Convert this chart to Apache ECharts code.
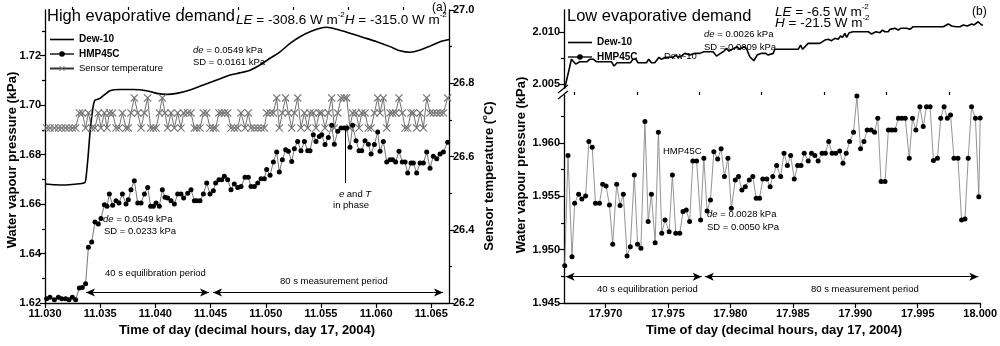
<!DOCTYPE html>
<html><head><meta charset="utf-8">
<script src="https://cdn.jsdelivr.net/npm/echarts@6/dist/echarts.min.js"></script>
<style>html,body{margin:0;padding:0;background:#fff}#c{width:1000px;height:346px}</style>
</head><body><div id="c"></div>
<script>
// ---------- Panel (a): high evaporative demand ----------
const leftHmpTimes = [11.03015,11.03045,11.03085,11.03121,11.03151,11.03187,11.03217,11.03248,11.03278,11.03311,
11.03338,11.03368,11.03393,11.03423,11.03453,11.03483,11.03507,11.03538,11.03562,11.03583,
11.03613,11.03643,11.03670,11.03701,11.03734,11.03755,11.03779,11.03809,11.03840,11.03870,
11.03900,11.03930,11.03957,11.03982,11.04006,11.04036,11.04063,11.04087,11.04111,11.04142,
11.04172,11.04202,11.04232,11.04256,11.04293,11.04323,11.04353,11.04374,11.04404,11.04435,
11.04465,11.04495,11.04525,11.04546,11.04576,11.04601,11.04625,11.04655,11.04685,11.04715,
11.04746,11.04776,11.04812,11.04842,11.04866,11.04897,11.04927,11.04957,11.04987,11.05008,
11.05039,11.05069,11.05099,11.05123,11.05150,11.05180,11.05205,11.05235,11.05259,11.05289,
11.05319,11.05350,11.05380,11.05401,11.05431,11.05455,11.05485,11.05507,11.05537,11.05567,
11.05597,11.05621,11.05652,11.05682,11.05712,11.05733,11.05763,11.05787,11.05818,11.05845,
11.05869,11.05899,11.05929,11.05954,11.05984,11.06014,11.06035,11.06065,11.06096,11.06126,
11.06150,11.06177,11.06207,11.06237,11.06262,11.06286,11.06316,11.06337,11.06367,11.06398,
11.06428,11.06458,11.06488,11.06518,11.06549,11.06579,11.06609,11.06648];
const leftHmpValues = [1.6217,1.6223,1.6213,1.6223,1.6217,1.6217,1.6213,1.6223,1.6213,1.6261,
1.6263,1.6278,1.6425,1.6446,1.6527,1.6519,1.6541,1.6597,1.6591,1.6640,
1.6595,1.6613,1.6604,1.6640,1.6600,1.6617,1.6658,1.6694,1.6604,1.6604,
1.6640,1.6667,1.6591,1.6591,1.6604,1.6591,1.6658,1.6627,1.6624,1.6613,
1.6600,1.6640,1.6640,1.6624,1.6644,1.6658,1.6613,1.6613,1.6613,1.6640,
1.6685,1.6640,1.6654,1.6685,1.6698,1.6698,1.6712,1.6698,1.6658,1.6681,
1.6667,1.6671,1.6708,1.6708,1.6671,1.6671,1.6685,1.6702,1.6702,1.6739,
1.6716,1.6770,1.6810,1.6729,1.6779,1.6819,1.6813,1.6772,1.6823,1.6853,
1.6815,1.6853,1.6815,1.6815,1.6880,1.6853,1.6873,1.6880,1.6840,1.6869,
1.6918,1.6842,1.6894,1.6907,1.6907,1.6907,1.6829,1.6918,1.6856,1.6815,
1.6815,1.6856,1.6842,1.6802,1.6840,1.6891,1.6813,1.6853,1.6770,1.6779,
1.6779,1.6770,1.6813,1.6770,1.6770,1.6725,1.6766,1.6766,1.6725,1.6766,
1.6766,1.6810,1.6745,1.6793,1.6783,1.6802,1.6810,1.6850];
const leftTempValues = [26.678,26.678,26.678,26.678,26.678,26.678,26.678,26.678,26.678,26.719,
26.719,26.678,26.719,26.678,26.678,26.719,26.678,26.719,26.678,26.719,
26.719,26.678,26.678,26.719,26.678,26.678,26.719,26.760,26.719,26.678,
26.719,26.760,26.678,26.678,26.678,26.719,26.760,26.719,26.678,26.719,
26.678,26.719,26.678,26.719,26.719,26.719,26.678,26.678,26.678,26.719,
26.719,26.678,26.678,26.678,26.719,26.719,26.719,26.719,26.678,26.678,
26.678,26.719,26.678,26.719,26.678,26.678,26.678,26.678,26.678,26.719,
26.719,26.719,26.760,26.678,26.719,26.760,26.719,26.678,26.719,26.760,
26.678,26.719,26.678,26.719,26.719,26.678,26.719,26.719,26.678,26.719,
26.760,26.678,26.719,26.760,26.760,26.760,26.678,26.719,26.719,26.678,
26.719,26.719,26.678,26.678,26.719,26.760,26.719,26.760,26.678,26.719,
26.719,26.719,26.760,26.719,26.678,26.678,26.719,26.719,26.678,26.719,
26.678,26.760,26.719,26.719,26.719,26.719,26.719,26.760];
const leftDewTimes = [11.0300,11.0309,11.0318,11.0327,11.0336,11.0337,11.0339,11.0341,11.0343,11.0345,
11.03498,11.03589,11.03680,11.03800,11.03921,11.04012,11.04103,11.04193,11.04314,11.04434,
11.04556,11.04676,11.04767,11.04857,11.04948,11.05039,11.05129,11.05220,11.05310,11.05401,
11.05492,11.05552,11.05643,11.05763,11.05884,11.06005,11.06126,11.06216,11.06307,11.06398,
11.06488,11.06579,11.06660];
const leftDewValues = [1.6681,1.6678,1.6677,1.6680,1.6686,1.6700,1.6790,1.6900,1.6975,1.7018,
1.7027,1.7058,1.7063,1.7063,1.7058,1.7047,1.7043,1.7047,1.7061,1.7081,
1.7101,1.7121,1.7130,1.7141,1.7162,1.7189,1.7215,1.7249,1.7276,1.7296,
1.7310,1.7314,1.7306,1.7290,1.7273,1.7256,1.7236,1.7219,1.7213,1.7222,
1.7238,1.7256,1.7265];
const leftXTicks = [11.030,11.035,11.040,11.045,11.050,11.055,11.060,11.065];
const leftXMinor = [11.0325,11.0375,11.0425,11.0475,11.0525,11.0575,11.0625];
const leftYTicks = [1.62,1.64,1.66,1.68,1.70,1.72];
const leftYMinor = [1.63,1.65,1.67,1.69,1.71,1.73];
const tempTicks = [26.2,26.4,26.6,26.8,27.0];
const tempMinor = [26.3,26.5,26.7,26.9];
const leftEquilArrow = [11.03371,11.04486];
const leftMeasArrow = [11.04522,11.06606];
const leftArrowLevel = 1.6242;
const inPhaseTime = 11.0572;
const inPhaseRange = [1.6907,1.6685];

// ---------- Panel (b): low evaporative demand ----------
const rightHmpTimes = [17.96673,17.96699,17.96731,17.96752,17.96784,17.96810,17.96840,17.96866,17.96893,17.96919,
17.96951,17.96977,17.97004,17.97031,17.97057,17.97089,17.97116,17.97142,17.97172,17.97198,
17.97230,17.97256,17.97283,17.97315,17.97341,17.97367,17.97397,17.97423,17.97450,17.97476,
17.97509,17.97535,17.97562,17.97594,17.97620,17.97646,17.97673,17.97699,17.97729,17.97761,
17.97787,17.97813,17.97840,17.97867,17.97898,17.97925,17.97952,17.97980,17.98007,17.98039,
17.98065,17.98092,17.98119,17.98151,17.98179,17.98206,17.98233,17.98259,17.98291,17.98318,
17.98339,17.98370,17.98402,17.98429,17.98456,17.98482,17.98511,17.98538,17.98565,17.98591,
17.98623,17.98649,17.98676,17.98702,17.98734,17.98760,17.98787,17.98814,17.98843,17.98875,
17.98901,17.98927,17.98954,17.98986,17.99013,17.99042,17.99069,17.99095,17.99127,17.99154,
17.99180,17.99206,17.99238,17.99265,17.99291,17.99318,17.99345,17.99373,17.99400,17.99432,
17.99458,17.99485,17.99517,17.99544,17.99570,17.99599,17.99626,17.99658,17.99684,17.99711,
17.99737,17.99763,17.99790,17.99822,17.99851,17.99878,17.99904,17.99931,17.99962,17.99989,
18.00000];
const rightHmpValues = [1.94850,1.95882,1.94934,1.95435,1.95519,1.95476,1.95504,1.96013,1.95960,1.95435,
1.95435,1.95613,1.95597,1.95419,1.95051,1.95613,1.95413,1.95519,1.94941,1.95028,
1.95701,1.95051,1.95013,1.96201,1.95263,1.95519,1.95066,1.96101,1.95154,1.95279,
1.95169,1.95701,1.95154,1.95154,1.95357,1.95372,1.95263,1.95832,1.95832,1.95279,
1.95857,1.95363,1.95466,1.95919,1.95851,1.95945,1.95685,1.95857,1.95388,1.95654,
1.95685,1.95560,1.95591,1.95654,1.95685,1.95482,1.95482,1.95663,1.95663,1.95591,
1.95685,1.95788,1.95685,1.95904,1.95788,1.95882,1.95663,1.95788,1.95788,1.95904,
1.95832,1.95904,1.95882,1.95832,1.95904,1.95904,1.96013,1.95904,1.95904,1.95926,
1.95810,1.95904,1.96013,1.96101,1.96440,1.95945,1.96013,1.96123,1.96123,1.96101,
1.96232,1.95638,1.95638,1.96123,1.96123,1.96123,1.96232,1.96232,1.96232,1.95857,
1.96232,1.96123,1.96341,1.96154,1.96341,1.96341,1.95835,1.95857,1.96232,1.96341,
1.96232,1.96263,1.95857,1.95857,1.95279,1.95288,1.95857,1.96341,1.96232,1.95497,
1.96235];
const rightDewTimes = [17.96673,17.96726,17.96760,17.96792,17.96850,17.96872,17.96903,17.96925,17.97044,17.97065,
17.97089,17.97195,17.97216,17.97238,17.97256,17.97323,17.97341,17.97363,17.97389,17.97423,
17.97442,17.97474,17.97535,17.97556,17.97574,17.97601,17.97628,17.97668,17.97707,17.97747,
17.97779,17.97821,17.97853,17.97880,17.97912,17.97940,17.97959,17.97980,17.98007,17.98044,
17.98065,17.98097,17.98118,17.98145,17.98177,17.98203,17.98238,17.98272,17.98291,17.98331,
17.98344,17.98530,17.98549,17.98565,17.98609,17.98702,17.98742,17.98768,17.98795,17.98822,
17.98848,17.98867,17.98883,17.98901,17.98915,17.98936,17.98967,17.99087,17.99114,17.99148,
17.99180,17.99201,17.99219,17.99246,17.99259,17.99299,17.99326,17.99345,17.99392,17.99419,
17.99445,17.99684,17.99724,17.99751,17.99785,17.99817,17.99843,17.99875,17.99910,17.99928,
17.99962,17.99989,18.00000];
const rightDewValues = [2.00459,2.00738,2.00692,2.00715,2.00715,2.00738,2.00738,2.00715,2.00715,2.00673,
2.00705,2.00705,2.00738,2.00738,2.00705,2.00705,2.00738,2.00705,2.00705,2.00757,
2.00738,2.00757,2.00757,2.00779,2.00757,2.00769,2.00795,2.00779,2.00795,2.00795,
2.00811,2.00811,2.00811,2.00769,2.00795,2.00817,2.00843,2.00817,2.00834,2.00859,
2.00834,2.00859,2.00843,2.00763,2.00724,2.00779,2.00795,2.00795,2.00779,2.00795,
2.00834,2.00834,2.00875,2.00834,2.00891,2.00891,2.00923,2.00930,2.00917,2.00940,
2.00930,2.00962,2.00949,2.00988,2.00949,2.00994,2.01003,2.01003,2.00981,2.01003,
2.00994,2.01019,2.01003,2.01003,2.01026,2.01036,2.01019,2.01036,2.01036,2.01026,
2.01051,2.01051,2.01077,2.01058,2.01051,2.01051,2.01068,2.01058,2.01077,2.01068,
2.01099,2.01068,2.01068];
const rightXTicks = [17.970,17.975,17.980,17.985,17.990,17.995,18.000];
const rightXMinor = [17.9675,17.9725,17.9775,17.9825,17.9875,17.9925,17.9975];
const rightYLowTicks = [1.945,1.950,1.955,1.960];
const rightYLowMinor = [1.9475,1.9525,1.9575,1.9625];
const rightYHighTicks = [2.005,2.010];
const rightYHighMinor = [2.0075];
const rightEquilArrow = [17.96680,17.97770];
const rightMeasArrow = [17.97795,17.99985];
const rightArrowLevel = 1.94747;

// ---------- build ----------
const zip = (a, b) => a.map((v, i) => [v, b[i]]);
const FONT = "'Liberation Sans', Arial, sans-serif";
const AX = '#000';
const xMark = 'path://M0,1L1,0L5,4L9,0L10,1L6,5L10,9L9,10L5,6L1,10L0,9L4,5Z';

function majorAxis(extra) {
  return Object.assign({
    type: 'value', scale: true,
    axisLine: {show: true, onZero: false, lineStyle: {color: AX, width: 1.3}},
    splitLine: {show: false},
    axisTick: {show: true, inside: false, length: 5, lineStyle: {color: AX, width: 1.2}},
    axisLabel: {color: '#000', fontFamily: FONT, fontWeight: 'bold', fontSize: 11, margin: 4}
  }, extra);
}
function minorAxis(extra, ticks) {
  return Object.assign({
    type: 'value', scale: true,
    axisLine: {show: false, onZero: false},
    splitLine: {show: false},
    axisTick: {show: true, inside: false, length: 3, customValues: ticks, lineStyle: {color: AX, width: 1.2}},
    axisLabel: {show: false}
  }, extra);
}
const fx = d => v => v.toFixed(d);
const lbl = (vals, d, m) => ({customValues: vals, formatter: fx(d), color: '#000', fontFamily: FONT, fontWeight: 'bold', fontSize: 11, margin: m});
const tck = (vals) => ({show: true, length: 5, customValues: vals, lineStyle: {color: AX, width: 1.2}});

const xAxis = [
  majorAxis({gridIndex: 0, min: 11.030, max: 11.0666, axisTick: tck(leftXTicks), axisLabel: lbl(leftXTicks, 3, 5)}),
  minorAxis({gridIndex: 0, min: 11.030, max: 11.0666}, leftXMinor),
  majorAxis({gridIndex: 1, min: 17.96667, max: 18.0, axisTick: tck(rightXTicks), axisLabel: lbl(rightXTicks, 3, 5)}),
  minorAxis({gridIndex: 1, min: 17.96667, max: 18.0}, rightXMinor),
  {type: 'value', gridIndex: 2, min: 17.96667, max: 18.0, show: false}
];
const yAxis = [
  majorAxis({gridIndex: 0, position: 'left', min: 1.62, max: 1.7384, axisTick: tck(leftYTicks), axisLabel: lbl(leftYTicks, 2, 4)}),
  minorAxis({gridIndex: 0, position: 'left', min: 1.62, max: 1.7384}, leftYMinor),
  majorAxis({gridIndex: 0, position: 'right', min: 26.2, max: 27.0, axisTick: tck(tempTicks), axisLabel: lbl(tempTicks, 1, 4)}),
  minorAxis({gridIndex: 0, position: 'right', min: 26.2, max: 27.0}, tempMinor),
  majorAxis({gridIndex: 1, position: 'left', min: 1.945, max: 1.9645, axisTick: tck(rightYLowTicks), axisLabel: lbl(rightYLowTicks, 3, 4)}),
  minorAxis({gridIndex: 1, position: 'left', min: 1.945, max: 1.9645}, rightYLowMinor),
  majorAxis({gridIndex: 2, position: 'left', min: 2.00462, max: 2.01212, axisTick: tck(rightYHighTicks), axisLabel: lbl(rightYHighTicks, 3, 4)}),
  minorAxis({gridIndex: 2, position: 'left', min: 2.00462, max: 2.01212}, rightYHighMinor)
];

const arrowLine = (a, lvl) => [{coord: [a[0], lvl]}, {coord: [a[1], lvl]}];

const series = [
  {name: 'Dew-10', type: 'line', xAxisIndex: 0, yAxisIndex: 0, data: zip(leftDewTimes, leftDewValues),
   symbol: 'none', smooth: 0.25, lineStyle: {color: '#000', width: 1.6}, itemStyle: {color: '#000'}, z: 3},
  {name: 'HMP45C', type: 'line', xAxisIndex: 0, yAxisIndex: 0, data: zip(leftHmpTimes, leftHmpValues),
   symbol: 'circle', symbolSize: 5, showAllSymbol: true, itemStyle: {color: '#000'}, lineStyle: {color: '#555', width: 0.8}, z: 4,
   markLine: {silent: true, symbol: ['arrow', 'arrow'], symbolSize: [6, 9], label: {show: false},
     lineStyle: {color: '#000', width: 1.2, type: 'solid'},
     data: [arrowLine(leftEquilArrow, leftArrowLevel), arrowLine(leftMeasArrow, leftArrowLevel)]}},
  {name: 'Sensor temperature', type: 'line', xAxisIndex: 0, yAxisIndex: 2, data: zip(leftHmpTimes, leftTempValues),
   symbol: xMark, symbolSize: 8, showAllSymbol: true, itemStyle: {color: '#777'}, lineStyle: {color: '#333', width: 0.7}, z: 3},
  {name: 'phase', type: 'line', xAxisIndex: 0, yAxisIndex: 0, data: [],
   markLine: {silent: true, symbol: 'none', label: {show: false}, lineStyle: {color: '#000', width: 1, type: 'solid'},
     data: [[{coord: [inPhaseTime, inPhaseRange[0]]}, {coord: [inPhaseTime, inPhaseRange[1]]}]]}},
  {name: 'HMP45C', type: 'line', xAxisIndex: 2, yAxisIndex: 4, data: zip(rightHmpTimes, rightHmpValues),
   symbol: 'circle', symbolSize: 5, showAllSymbol: true, itemStyle: {color: '#000'}, lineStyle: {color: '#888', width: 0.9}, z: 4,
   markLine: {silent: true, symbol: ['arrow', 'arrow'], symbolSize: [6, 9], label: {show: false},
     lineStyle: {color: '#000', width: 1.2, type: 'solid'},
     data: [arrowLine(rightEquilArrow, rightArrowLevel), arrowLine(rightMeasArrow, rightArrowLevel)]}},
  {name: 'Dew-10', type: 'line', xAxisIndex: 4, yAxisIndex: 6, data: zip(rightDewTimes, rightDewValues),
   symbol: 'none', lineStyle: {color: '#000', width: 1.6}, itemStyle: {color: '#000'}, z: 3}
];

const sm = 9.5;
function txt(x, y, text, size, opts) {
  return {type: 'text', x: x, y: y, silent: true, style: Object.assign({
    text: text, fontSize: size, fontFamily: FONT, fill: '#000',
    align: 'left', textAlign: 'left', verticalAlign: 'middle', textVerticalAlign: 'middle'
  }, opts || {})};
}
const richBase = (size) => ({
  i: {fontStyle: 'italic', fontSize: size, fontFamily: FONT, lineHeight: size + 4},
  n: {fontSize: size, fontFamily: FONT, lineHeight: size + 4},
  s: {fontSize: Math.round(size * 0.62), fontFamily: FONT, verticalAlign: 'top', lineHeight: Math.round(size * 0.5)}
});
const rot = (el) => Object.assign(el, {rotation: Math.PI / 2});
const graphic = [
  txt(47, 16, 'High evaporative demand', 16.5),
  txt(236, 20, '{i|LE}{n| = -308.6 W m}{s|-2}{i|H}{n| = -315.0 W m}{s|-2}', 13.5, {rich: richBase(13.5)}),
  txt(432, 8, '(a)', 12),
  txt(193, 50, '{i|de}{n| = 0.0549 kPa}', sm, {rich: richBase(sm)}),
  txt(193, 62, 'SD = 0.0161 kPa', sm),
  txt(103, 219, '{i|de}{n| = 0.0549 kPa}', sm, {rich: richBase(sm)}),
  txt(104, 231, 'SD = 0.0233 kPa', sm),
  txt(105, 273, '40 s equilibration period', sm),
  txt(280, 281, '80 s measurement period', sm),
  txt(355, 194, '{i|e}{n| and }{i|T}', sm, {rich: richBase(sm), align: 'center', textAlign: 'center'}),
  txt(351, 205, 'in phase', sm, {align: 'center', textAlign: 'center'}),
  txt(567, 16, 'Low evaporative demand', 16.5),
  txt(775, 12, '{i|LE}{n| = -6.5 W m}{s|-2}', 13.5, {rich: richBase(13.5)}),
  txt(775, 23, '{i|H}{n| = -21.5 W m}{s|-2}', 13.5, {rich: richBase(13.5)}),
  txt(972, 12, '(b)', 12),
  txt(704, 34, '{i|de}{n| = 0.0026 kPa}', sm, {rich: richBase(sm)}),
  txt(704, 47, 'SD = 0.0009 kPa', sm),
  txt(664, 56, 'Dew-10', sm),
  txt(663, 151, 'HMP45C', sm),
  txt(707, 214, '{i|de}{n| = 0.0028 kPa}', sm, {rich: richBase(sm)}),
  txt(707, 227, 'SD = 0.0050 kPa', sm),
  txt(597, 289, '40 s equilibration period', sm),
  txt(811, 289, '80 s measurement period', sm),
  // axis titles
  txt(247, 330, 'Time of day (decimal hours, day 17, 2004)', 13, {fontWeight: 'bold', align: 'center', textAlign: 'center'}),
  txt(774, 330, 'Time of day (decimal hours, day 17, 2004)', 13, {fontWeight: 'bold', align: 'center', textAlign: 'center'}),
  rot(txt(12, 160, 'Water vapour pressure (kPa)', 13, {fontWeight: 'bold', align: 'center', textAlign: 'center'})),
  rot(txt(521, 165, 'Water vapour pressure (kPa)', 13, {fontWeight: 'bold', align: 'center', textAlign: 'center'})),
  rot(txt(489, 176, '{b|Sensor temperature (}{s|o}{b|C)}', 13, {align: 'center', textAlign: 'center',
    rich: {b: {fontWeight: 'bold', fontSize: 13, fontFamily: FONT, lineHeight: 16},
           s: {fontWeight: 'bold', fontSize: 8, fontFamily: FONT, verticalAlign: 'top', lineHeight: 6}}})),
  // axis break marks
  {type: 'line', silent: true, shape: {x1: 558, y1: 93, x2: 568, y2: 85}, style: {stroke: '#000', lineWidth: 1.3}},
  {type: 'line', silent: true, shape: {x1: 558, y1: 99, x2: 568, y2: 91}, style: {stroke: '#000', lineWidth: 1.3}}
];

const legendText = {fontFamily: FONT, fontSize: 10, color: '#000', fontWeight: 'bold'};
const noSym = {itemStyle: {opacity: 0, color: 'transparent', borderWidth: 0}, lineStyle: {color: '#000', width: 1.6}};
const option = {
  animation: false,
  backgroundColor: '#fff',
  grid: [
    {left: 45, top: 10, width: 404, height: 293},
    {left: 564, top: 95, width: 419, height: 208},
    {left: 564, top: 10, width: 419, height: 78}
  ],
  xAxis: xAxis,
  yAxis: yAxis,
  legend: [
    {left: 49, top: 34.5, padding: 0, orient: 'vertical', itemWidth: 24, itemHeight: 7, itemGap: 4.5, selectedMode: false,
     textStyle: legendText,
     data: [Object.assign({name: 'Dew-10'}, noSym), {name: 'HMP45C'}, {name: 'Sensor temperature', textStyle: {fontWeight: 'normal', fontSize: 9.5}}]},
    {left: 567, top: 37.5, padding: 0, orient: 'vertical', itemWidth: 24, itemHeight: 7, itemGap: 4.5, selectedMode: false,
     textStyle: legendText, data: [Object.assign({name: 'Dew-10'}, noSym), {name: 'HMP45C'}]}
  ],
  series: series,
  graphic: graphic
};
const chart = echarts.init(document.getElementById('c'), null, {renderer: 'canvas'});
chart.setOption(option);
</script></body></html>
